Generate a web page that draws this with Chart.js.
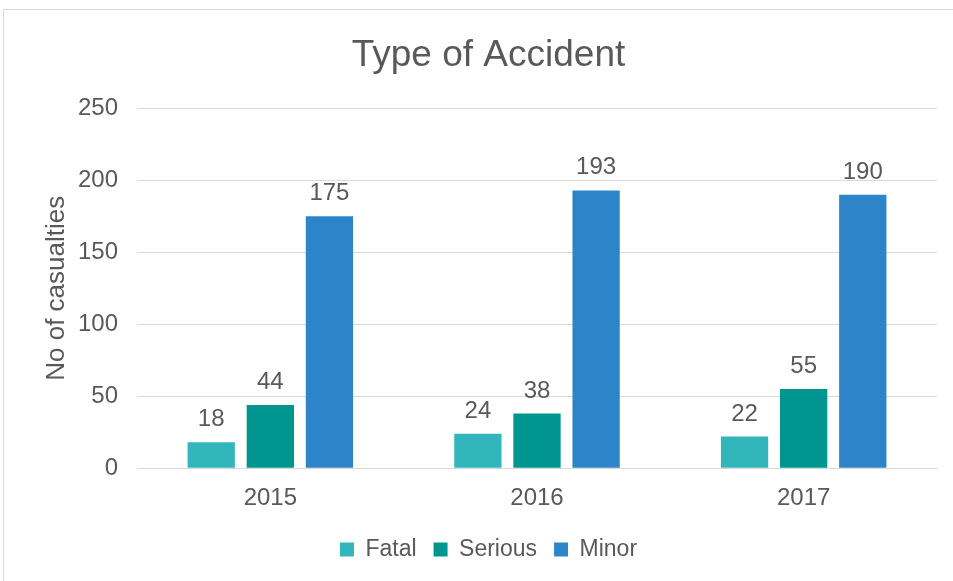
<!DOCTYPE html>
<html>
<head>
<meta charset="utf-8">
<script src="https://cdn.jsdelivr.net/npm/chart.js@4"></script>
<style>
  html, body { margin: 0; padding: 0; background: #fff; }
  #wrap { position: relative; width: 953px; height: 581px; }
</style>
</head>
<body>
<div id="wrap"><canvas id="chart" width="953" height="581"></canvas></div>
<script>
// Data
const years = ['2015', '2016', '2017'];
const fatal = [18, 24, 22];
const serious = [44, 38, 55];
const minor = [175, 193, 190];
const yTicks = [0, 50, 100, 150, 200, 250];

const TEXT = '#595959';
const FONT = "'Liberation Sans', Arial, sans-serif";

// frame lines (top + left)
const framePlugin = {
  id: 'frame',
  beforeDraw(chart) {
    const ctx = chart.ctx;
    ctx.save();
    ctx.fillStyle = '#fff';
    ctx.fillRect(0, 0, chart.width, chart.height);
    ctx.strokeStyle = '#d9d9d9';
    ctx.lineWidth = 1;
    ctx.beginPath();
    ctx.moveTo(3.5, chart.height);
    ctx.lineTo(3.5, 9.5);
    ctx.lineTo(chart.width, 9.5);
    ctx.stroke();
    ctx.restore();
  }
};

// value labels above bars
const labelPlugin = {
  id: 'barLabels',
  afterDatasetsDraw(chart) {
    const ctx = chart.ctx;
    ctx.save();
    ctx.fillStyle = TEXT;
    ctx.font = '24px ' + FONT;
    ctx.textAlign = 'center';
    ctx.textBaseline = 'alphabetic';
    chart.data.datasets.forEach((ds, i) => {
      chart.getDatasetMeta(i).data.forEach((bar, j) => {
        ctx.fillText(ds.data[j], bar.x, bar.y - 16);
      });
    });
    ctx.restore();
  }
};

new Chart(document.getElementById('chart'), {
  type: 'bar',
  data: {
    labels: years,
    datasets: [
      { label: 'Fatal', data: fatal, backgroundColor: '#33b6bb' },
      { label: 'Serious', data: serious, backgroundColor: '#009690' },
      { label: 'Minor', data: minor, backgroundColor: '#2d84c9' }
    ]
  },
  options: {
    responsive: false,
    animation: false,
    devicePixelRatio: 1,
    layout: { padding: { top: 34, right: 16, bottom: 10, left: 40 } },
    datasets: {
      bar: { barPercentage: 0.8, categoryPercentage: 0.665 }
    },
    plugins: {
      title: {
        display: true,
        text: 'Type of Accident',
        color: TEXT,
        font: { family: FONT, size: 37, weight: 'normal' },
        padding: { top: 0, bottom: 30 }
      },
      legend: {
        position: 'bottom',
        labels: {
          color: TEXT,
          font: { family: FONT, size: 23 },
          boxWidth: 14,
          boxHeight: 14,
          padding: 17
        }
      },
      tooltip: { enabled: false }
    },
    scales: {
      x: {
        grid: { display: false },
        border: { color: '#d9d9d9' },
        ticks: { color: TEXT, font: { family: FONT, size: 24 }, padding: 8 }
      },
      y: {
        min: 0,
        max: 250,
        afterBuildTicks(axis) { axis.ticks = yTicks.map(v => ({ value: v })); },
        afterFit(axis) { axis.width = 97; },
        grid: { color: '#d9d9d9', drawTicks: false },
        border: { display: false },
        ticks: { color: TEXT, font: { family: FONT, size: 24 }, padding: 19 },
        title: {
          display: true,
          text: 'No of casualties',
          color: TEXT,
          font: { family: FONT, size: 26 },
          padding: { top: 1, bottom: 4 }
        }
      }
    }
  },
  plugins: [framePlugin, labelPlugin]
});
</script>
</body>
</html>
